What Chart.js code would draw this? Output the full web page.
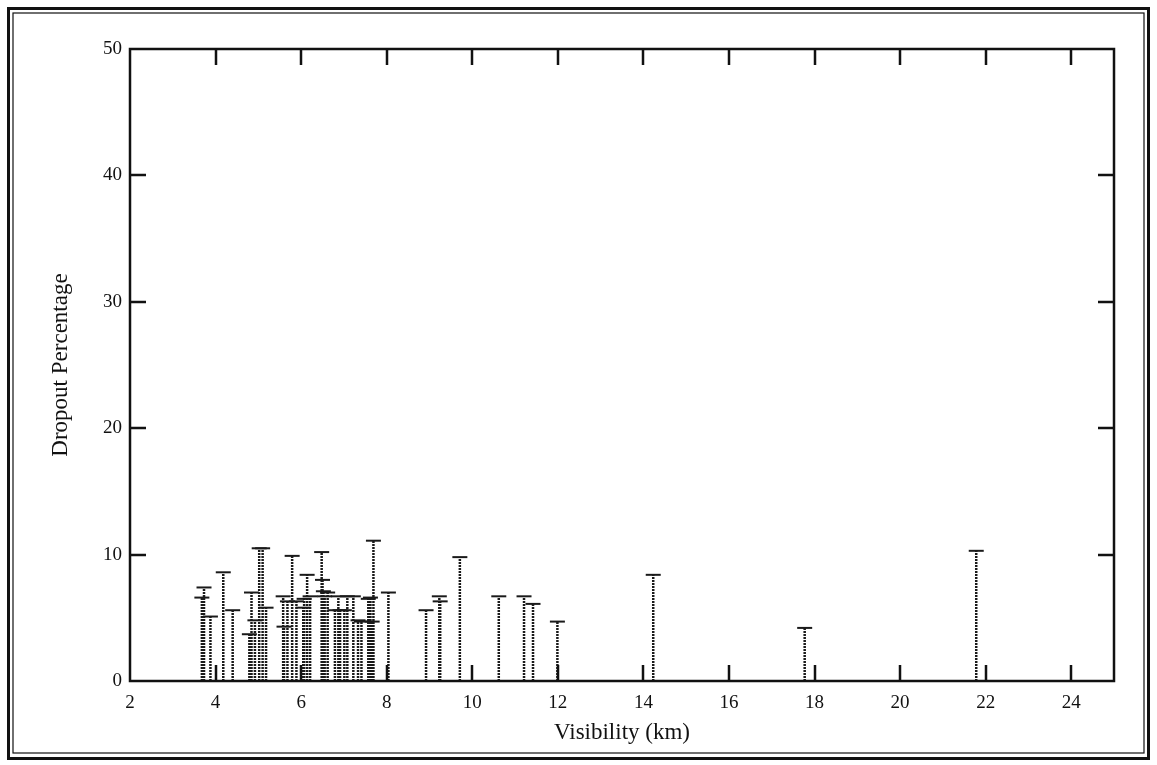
<!DOCTYPE html>
<html>
<head>
<meta charset="utf-8">
<script src="https://cdn.jsdelivr.net/npm/chart.js@4"></script>
<style>
  html, body { margin: 0; padding: 0; background: #fff; }
  #wrap { width: 1157px; height: 765px; }
</style>
</head>
<body>
<div id="wrap"><canvas id="dropoutChart" width="1157" height="765"></canvas></div>
<script>
// visibility (km) and dropout (%)
const visibility = [3.68, 3.73, 3.88, 4.18, 4.40, 4.79, 4.84, 4.92, 5.02, 5.10, 5.18,
  5.58, 5.60, 5.68, 5.79, 5.89, 6.05, 6.07, 6.14, 6.21, 6.48, 6.50, 6.52, 6.55, 6.62,
  6.79, 6.87, 6.91, 7.01, 7.08, 7.22, 7.33, 7.41, 7.57, 7.62, 7.66, 7.69, 8.04,
  8.92, 9.23, 9.25, 9.71, 10.62, 11.21, 11.42, 11.99, 14.23, 17.77, 21.78];
const dropout = [6.6, 7.4, 5.1, 8.6, 5.6, 3.7, 7.0, 4.8, 10.5, 10.5, 5.8,
  6.7, 4.3, 6.3, 9.9, 6.3, 5.8, 6.5, 8.4, 6.7, 10.2, 8.0, 7.1, 6.7, 7.0,
  5.6, 6.7, 5.6, 5.6, 6.7, 6.7, 4.8, 4.7, 6.5, 6.6, 4.7, 11.1, 7.0,
  5.6, 6.7, 6.3, 9.8, 6.7, 6.7, 6.1, 4.7, 8.4, 4.2, 10.3];
const xTicks = [2, 4, 6, 8, 10, 12, 14, 16, 18, 20, 22, 24];
const yTicks = [0, 10, 20, 30, 40, 50];

const ink = '#111';
const serif = 'Liberation Serif, Times New Roman, serif';

// stems: from 0 up to each value, broken apart with null points
const stems = [];
visibility.forEach((v, i) => {
  stems.push({ x: v, y: 0 }, { x: v, y: dropout[i] }, { x: v, y: null });
});
const tops = visibility.map((v, i) => ({ x: v, y: dropout[i] }));

const framePlugin = {
  id: 'frame',
  beforeDraw(chart) {
    const { ctx, width, height } = chart;
    ctx.save();
    ctx.fillStyle = '#fff';
    ctx.fillRect(0, 0, width, height);
    ctx.strokeStyle = ink;
    ctx.lineWidth = 3;
    ctx.strokeRect(8.5, 8.5, width - 17, height - 15);
    ctx.lineWidth = 1.2;
    ctx.strokeRect(13, 13, width - 26, height - 25);
    ctx.restore();
  },
  afterDraw(chart) {
    const { ctx, chartArea: a, scales: { x, y } } = chart;
    ctx.save();
    ctx.strokeStyle = ink;
    ctx.lineWidth = 2.5;
    ctx.strokeRect(a.left, a.top, a.right - a.left, a.bottom - a.top);
    const len = 16;
    ctx.beginPath();
    xTicks.forEach(v => {
      if (v <= x.min || v >= x.max) return;
      const px = Math.round(x.getPixelForValue(v));
      ctx.moveTo(px, a.bottom); ctx.lineTo(px, a.bottom - len);
      ctx.moveTo(px, a.top); ctx.lineTo(px, a.top + len);
    });
    yTicks.forEach(v => {
      if (v <= y.min || v >= y.max) return;
      const py = Math.round(y.getPixelForValue(v));
      ctx.moveTo(a.left, py); ctx.lineTo(a.left + len, py);
      ctx.moveTo(a.right, py); ctx.lineTo(a.right - len, py);
    });
    ctx.stroke();
    ctx.restore();
  }
};

const ctx = document.getElementById('dropoutChart').getContext('2d');
new Chart(ctx, {
  type: 'scatter',
  data: {
    datasets: [
      {
        data: stems,
        showLine: true,
        spanGaps: false,
        borderColor: '#1a1a1a',
        borderWidth: 2.5,
        borderDash: [2, 1],
        pointRadius: 0,
        pointHoverRadius: 0
      },
      {
        data: tops,
        pointStyle: 'line',
        pointRadius: 7.5,
        borderColor: '#1a1a1a',
        borderWidth: 2,
        pointHoverRadius: 7.5
      }
    ]
  },
  options: {
    responsive: false,
    animation: false,
    devicePixelRatio: 1,
    layout: { padding: { top: 49, right: 43, left: 0, bottom: 0 } },
    plugins: { legend: { display: false }, tooltip: { enabled: false } },
    scales: {
      x: {
        type: 'linear',
        min: 2,
        max: 25,
        grid: { display: false, drawTicks: false },
        border: { display: false },
        afterBuildTicks: s => { s.ticks = xTicks.map(v => ({ value: v })); },
        afterFit: s => { s.height = 84; },
        ticks: { color: ink, font: { family: serif, size: 19 }, padding: 11, maxRotation: 0, autoSkip: false },
        title: { display: true, text: 'Visibility (km)', color: ink, font: { family: serif, size: 23 }, padding: { top: 4, bottom: 18 } }
      },
      y: {
        min: 0,
        max: 50,
        grid: { display: false, drawTicks: false },
        border: { display: false },
        afterBuildTicks: s => { s.ticks = yTicks.map(v => ({ value: v })); },
        afterFit: s => { s.width = 130; },
        ticks: { color: ink, font: { family: serif, size: 19 }, padding: 8 },
        title: { display: true, text: 'Dropout Percentage', color: ink, font: { family: serif, size: 23 }, padding: { top: 47, bottom: 4 } }
      }
    }
  },
  plugins: [framePlugin]
});
</script>
</body>
</html>
